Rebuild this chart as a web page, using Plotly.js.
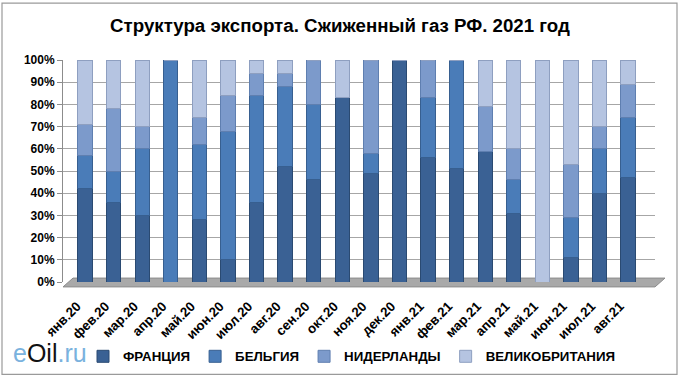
<!DOCTYPE html>
<html>
<head>
<meta charset="utf-8">
<script src="https://cdn.plot.ly/plotly-3.0.1.min.js"></script>
<style>html,body{margin:0;padding:0;background:#fff;}#chart{width:680px;height:384px;}</style>
</head>
<body>
<div id="chart"></div>
<script>
const months = ["янв.20","фев.20","мар.20","апр.20","май.20","июн.20","июл.20","авг.20","сен.20","окт.20","ноя.20","дек.20","янв.21","фев.21","мар.21","апр.21","май.21","июн.21","июл.21","авг.21"];
const france      = [42, 36, 30, 0, 28, 10, 36, 52, 46, 83, 49, 100, 56, 51, 59, 31, 0, 11, 40, 47];
const belgium     = [15, 14, 30, 100, 34, 58, 48, 36, 34, 0, 9, 0, 27, 49, 0, 15, 0, 18, 20, 27];
const netherlands = [14, 28, 10, 0, 12, 16, 10, 6, 20, 0, 42, 0, 17, 0, 20, 14, 0, 24, 10, 15];
const uk          = [29, 22, 30, 0, 26, 16, 6, 6, 0, 17, 0, 0, 0, 0, 21, 40, 100, 47, 30, 11];
const names = ["ФРАНЦИЯ","БЕЛЬГИЯ","НИДЕРЛАНДЫ","ВЕЛИКОБРИТАНИЯ"];
const colors = ["#3a6194","#4a7cb8","#7c9acb","#b5c4e1"];
const lineColors = ["#2a4a72","#375f90","#5f7fb0","#8e9fc0"];
const series = [france, belgium, netherlands, uk];

const traces = series.map((vals, i) => ({
  type: 'bar',
  x: months,
  y: vals.map(v => v / 100),
  name: names[i],
  marker: {color: colors[i], line: {color: lineColors[i], width: 1}},
  width: 0.5,
  hoverinfo: 'x+y+name'
}));

const px = v => (v - 63) / 592;
const py = v => (286 - v) / 226;
const FONT = 'Liberation Sans, Arial, sans-serif';

const layout = {
  width: 680, height: 384,
  margin: {l: 63, r: 25, t: 60, b: 98},
  paper_bgcolor: '#ffffff',
  plot_bgcolor: '#ffffff',
  barmode: 'stack',
  font: {family: FONT, color: '#000'},
  title: {
    text: '<b>Структура экспорта. Сжиженный газ РФ. 2021 год</b>',
    font: {size: 18.7, color: '#000', family: FONT},
    x: 340/680, xref: 'container', xanchor: 'center',
    y: 1 - 25/384, yref: 'container', yanchor: 'middle'
  },
  xaxis: {
    type: 'category',
    range: [-0.77, 19.94],
    tickangle: -45,
    tickfont: {size: 13.3, color: '#000', family: FONT, weight: 'bold'},
    ticklabelstandoff: 13,
    ticklabelshift: -8,
    showgrid: false,
    zeroline: false,
    showline: false,
    ticks: '',
    automargin: false
  },
  yaxis: {
    range: [0, 1],
    tickvals: [0,0.1,0.2,0.3,0.4,0.5,0.6,0.7,0.8,0.9,1],
    ticktext: ["0%","10%","20%","30%","40%","50%","60%","70%","80%","90%","100%"],
    tickfont: {size: 12, color: '#000', family: FONT, weight: 'bold'},
    showgrid: true,
    gridcolor: '#a6a6a6',
    gridwidth: 1,
    zeroline: false,
    showline: true,
    linecolor: '#8c8c8c',
    ticks: 'outside',
    ticklen: 5,
    tickcolor: '#8c8c8c',
    automargin: false
  },
  legend: {
    orientation: 'h',
    x: px(83), xanchor: 'left',
    y: py(362), yanchor: 'middle',
    font: {size: 13.3, color: '#000', family: FONT, weight: 'bold'},
    entrywidth: 0,
    traceorder: 'normal',
    bgcolor: 'rgba(0,0,0,0)'
  },
  shapes: [
    {type: 'rect', xref: 'paper', yref: 'paper', x0: px(2), x1: px(677), y0: py(380), y1: py(2),
     line: {color: '#9a9a9a', width: 1.2}, fillcolor: 'rgba(0,0,0,0)', layer: 'below'},
    {type: 'path', xref: 'paper', yref: 'paper', layer: 'below',
     path: `M ${px(63)} ${py(291)} L ${px(655)} ${py(291)} L ${px(665)} ${py(282)} L ${px(73)} ${py(282)} Z`,
     fillcolor: '#a9a9a9', line: {color: '#8c8c8c', width: 1}}
  ],
  annotations: [
    {xref: 'paper', yref: 'paper', x: px(11), y: py(358), xanchor: 'left', yanchor: 'middle',
     text: '<span style="color:#7ab2de">e</span><span style="color:#111111">Oil</span><span style="color:#7ab2de">.ru</span>',
     showarrow: false, font: {size: 25, family: FONT}}
  ],
  showlegend: true
};

Plotly.newPlot('chart', traces, layout, {displayModeBar: false, staticPlot: true});
</script>
</body>
</html>
